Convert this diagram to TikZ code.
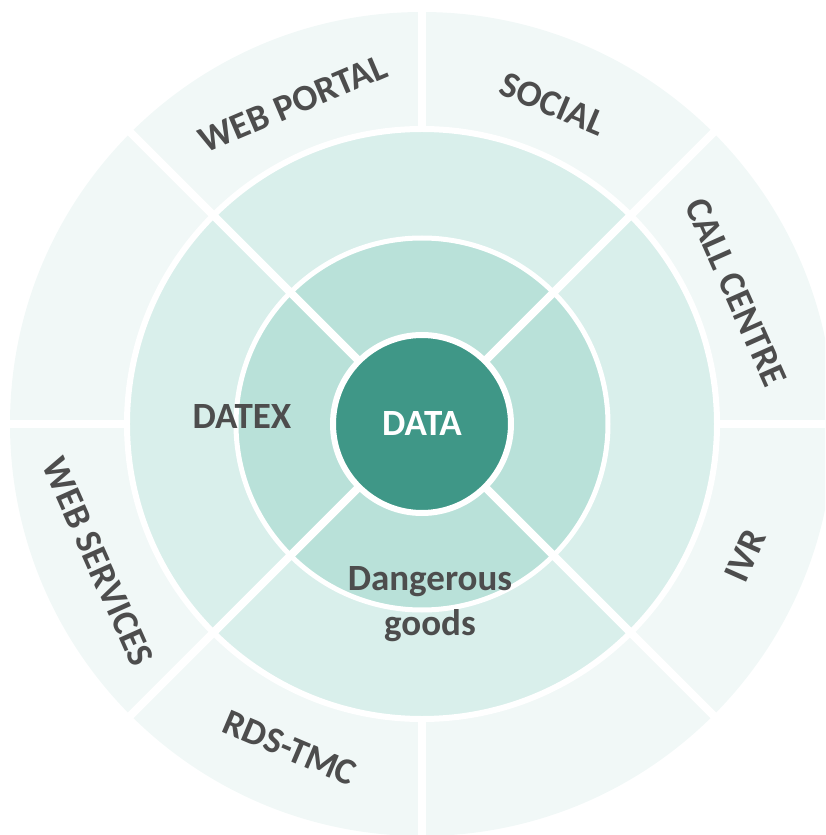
\documentclass[tikz,border=0pt]{standalone}
\usepackage{fontspec}
\setmainfont{Carlito}
\definecolor{outerc}{HTML}{F1F8F7}
\definecolor{midc}{HTML}{D9EFEB}
\definecolor{innc}{HTML}{B9E1D9}
\definecolor{datac}{HTML}{3F9787}
\definecolor{txtgray}{HTML}{4D4D4D}
\begin{document}
\begin{tikzpicture}[x=1pt,y=1pt,
  lbl/.style={font=\fontsize{37}{45}\selectfont\bfseries, text=txtgray, align=center, inner sep=0pt},
  sep/.style={white, line width=8pt},
  ringsep/.style={draw=white, line width=6pt}]
\useasboundingbox (-422,-411) rectangle (403,424);
\clip (-422,-411) rectangle (403,424);
% rings
\fill[outerc] (0,0) circle (412);
\filldraw[fill=midc, ringsep] (0,0) circle (295);
\filldraw[fill=innc, ringsep, line width=5pt] (0,0) circle (186);
% separators
\foreach \a in {45,135,225,315} \draw[sep] (\a:80) -- (\a:425);
\foreach \a in {0,90,180,270} \draw[sep] (\a:296) -- (\a:425);
% centre
\filldraw[fill=datac, ringsep] (0,0) circle (89);
% labels
\node[lbl, text=white] (data) at (0,0) {DATA};
\node[lbl] (datex) at (-180,7) {DATEX};
\node[lbl] (dg) at (8,-180) {Dangerous\\goods};
\node[lbl, rotate=23] (webportal) at (-129,320) {WEB PORTAL};
\node[lbl, rotate=-23] (social) at (131,320) {SOCIAL};
\node[lbl, rotate=-66] (callcentre) at (314,132) {CALL CENTRE};
\node[lbl, rotate=66] (ivr) at (323,-132) {IVR};
\node[lbl, rotate=-23] (rdstmc) at (-132,-324) {RDS-TMC};
\node[lbl, rotate=-66] (websvc) at (-324,-138) {WEB SERVICES};
\end{tikzpicture}
\end{document}
